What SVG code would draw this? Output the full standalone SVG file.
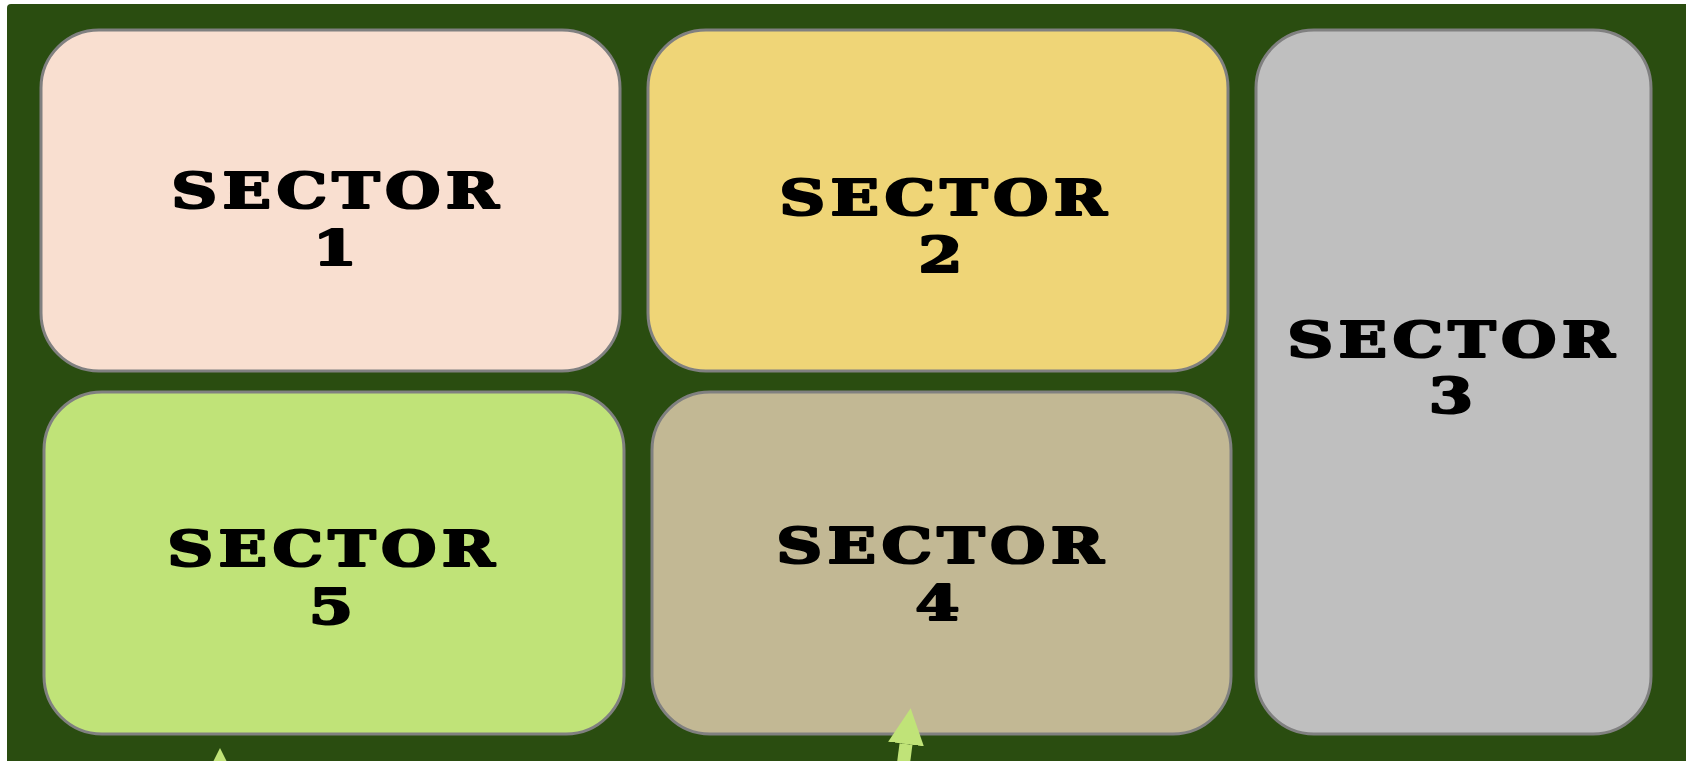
<svg xmlns="http://www.w3.org/2000/svg" width="1686" height="761" viewBox="0 0 1686 761">
<defs>
<style>
.box{stroke:#808080;stroke-width:3}
.lbl{font-family:"DejaVu Serif","Liberation Serif",serif;font-weight:bold;font-size:49px;fill:#000;stroke:#000;stroke-width:2.2;stroke-linejoin:round;text-anchor:middle}
.conn{stroke:#c0e378;stroke-width:13;fill:none}
</style>
<marker id="ah" markerUnits="userSpaceOnUse" markerWidth="36" markerHeight="36" viewBox="0 0 36 36" refX="0" refY="18" orient="auto">
<path d="M0,0 L36,18 L0,36 Z" fill="#c0e378"/>
</marker>
</defs>
<rect x="7" y="4" width="1690" height="780" rx="4" fill="#2a4d10"/>
<g id="sector1">
<rect class="box" x="41" y="30" width="579" height="341" rx="58" fill="#f9dfd0"/>
<text class="lbl" transform="translate(335,0) scale(1.3,1)"><tspan x="0" y="208" textLength="252" lengthAdjust="spacing">SECTOR</tspan><tspan x="0" y="265">1</tspan></text>
</g>
<g id="sector2">
<rect class="box" x="648" y="30" width="580" height="341" rx="58" fill="#efd577"/>
<text class="lbl" transform="translate(943,0) scale(1.3,1)"><tspan x="0" y="215" textLength="252" lengthAdjust="spacing">SECTOR</tspan><tspan x="-2" y="272">2</tspan></text>
</g>
<g id="sector3">
<rect class="box" x="1256" y="30" width="395" height="704" rx="58" fill="#bfbfbf"/>
<text class="lbl" transform="translate(1451,0) scale(1.3,1)"><tspan x="0" y="357" textLength="252" lengthAdjust="spacing">SECTOR</tspan><tspan x="0" y="413">3</tspan></text>
</g>
<g id="sector5">
<rect class="box" x="44" y="392" width="580" height="342" rx="58" fill="#c0e378"/>
<text class="lbl" transform="translate(331,0) scale(1.3,1)"><tspan x="0" y="566" textLength="252" lengthAdjust="spacing">SECTOR</tspan><tspan x="0" y="624">5</tspan></text>
</g>
<g id="sector4">
<rect class="box" x="652" y="392" width="579" height="342" rx="58" fill="#c2b894"/>
<text class="lbl" transform="translate(940,0) scale(1.3,1)"><tspan x="0" y="563" textLength="252" lengthAdjust="spacing">SECTOR</tspan><tspan x="-2" y="620">4</tspan></text>
</g>
<g id="connectors">
<path class="conn" d="M220,800 L220,784" marker-end="url(#ah)"/>
<path class="conn" d="M900,790 L906,744" marker-end="url(#ah)"/>
</g>
</svg>
